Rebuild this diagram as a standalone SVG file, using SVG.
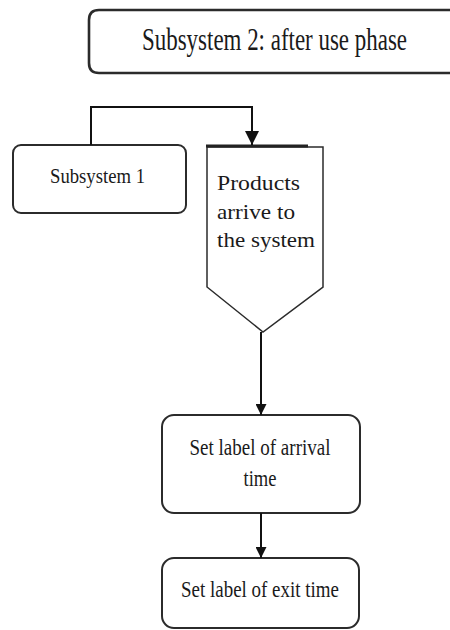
<svg xmlns="http://www.w3.org/2000/svg" width="450" height="630" viewBox="0 0 450 630">
  <style>
    .box { fill: #ffffff; stroke: #2b2b2b; stroke-width: 2; }
    .lbl { font-family: "Liberation Serif", "Times New Roman", serif; fill: #1a1a1a; }
    .wire { fill: none; stroke: #111111; stroke-width: 2; }
  </style>
  <defs>
    <marker id="arrow" viewBox="0 0 10 10" refX="10" refY="5" markerWidth="15" markerHeight="11" markerUnits="userSpaceOnUse" orient="auto">
      <path d="M0,0 L10,5 L0,10 Z" fill="#111111"/>
    </marker>
    <marker id="arrowWide" viewBox="0 0 10 10" refX="10" refY="5" markerWidth="16" markerHeight="14" markerUnits="userSpaceOnUse" orient="auto">
      <path d="M0,0 L10,5 L0,10 Z" fill="#111111"/>
    </marker>
  </defs>

  <rect width="450" height="630" fill="#ffffff"/>

  <!-- title box; its right side runs off the page -->
  <g id="subsystem2">
    <path d="M450,10 L99,10 Q89,10 89,20 L89,63 Q89,73 99,73 L450,73 L450,10 Z" fill="#ffffff"/>
    <path d="M450,10 L99,10 Q89,10 89,20 L89,63 Q89,73 99,73 L450,73" fill="none" stroke="#2b2b2b" stroke-width="2.6"/>
    <!-- tall, narrow lettering: stretched vertically -->
    <text class="lbl" transform="translate(142,50) scale(1,1.28)" x="0" y="0" font-size="24" textLength="265" lengthAdjust="spacingAndGlyphs">Subsystem 2: after use phase</text>
  </g>

  <g id="subsystem1">
    <rect class="box" x="13" y="145" width="173" height="68" rx="8"/>
    <text class="lbl" x="50" y="183" font-size="22" textLength="95" lengthAdjust="spacingAndGlyphs">Subsystem 1</text>
  </g>

  <!-- off-page entry shape -->
  <g id="arrival">
    <path class="box" d="M207,147 L323,147 L323,287 L263,332 L207,287 Z" style="stroke-width:1.5"/>
    <line x1="206" y1="146" x2="308" y2="146" stroke="#222222" stroke-width="3"/>
    <text class="lbl" font-size="21">
      <tspan x="217" y="190" textLength="83" lengthAdjust="spacingAndGlyphs">Products</tspan>
      <tspan x="217" y="219" textLength="78" lengthAdjust="spacingAndGlyphs">arrive to</tspan>
      <tspan x="217" y="247" textLength="98" lengthAdjust="spacingAndGlyphs">the system</tspan>
    </text>
  </g>

  <g id="arrivalLabel">
    <rect class="box" x="162" y="415" width="198" height="98" rx="12"/>
    <text class="lbl" x="260" y="455" font-size="23" text-anchor="middle" textLength="141" lengthAdjust="spacingAndGlyphs">Set label of arrival</text>
    <text class="lbl" x="260" y="486" font-size="23" text-anchor="middle" textLength="33" lengthAdjust="spacingAndGlyphs">time</text>
  </g>

  <g id="exitLabel">
    <rect class="box" x="162" y="558" width="197" height="70" rx="12"/>
    <text class="lbl" x="260" y="597" font-size="23" text-anchor="middle" textLength="158" lengthAdjust="spacingAndGlyphs">Set label of exit time</text>
  </g>

  <g id="connectors">
    <path class="wire" d="M91,145 L91,107 L252,107 L252,145" marker-end="url(#arrowWide)"/>
    <path class="wire" d="M261,332 L261,415" marker-end="url(#arrow)"/>
    <path class="wire" d="M261,513 L261,558" marker-end="url(#arrow)"/>
  </g>
</svg>
